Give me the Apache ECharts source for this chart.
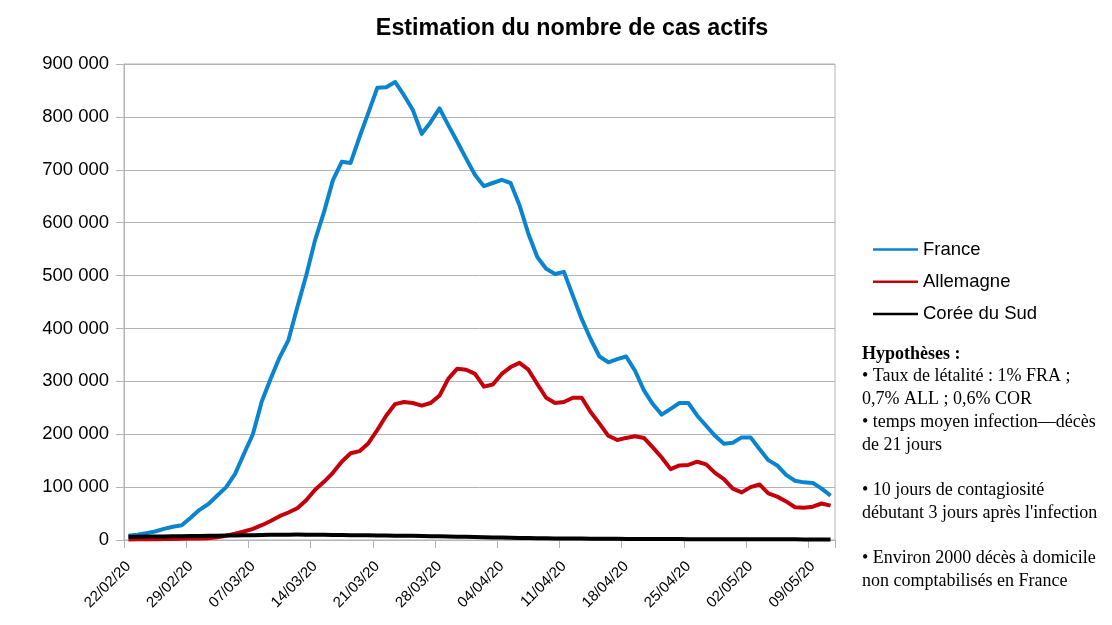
<!DOCTYPE html>
<html>
<head>
<meta charset="utf-8">
<script src="https://cdn.jsdelivr.net/npm/echarts@6/dist/echarts.min.js"></script>
<style>
html,body{margin:0;padding:0;background:#fff;}
#chart{width:1112px;height:625px;}
</style>
</head>
<body>
<div id="chart"></div>
<script>
var dates = [
'22/02/20','23/02/20','24/02/20','25/02/20','26/02/20','27/02/20','28/02/20','29/02/20',
'01/03/20','02/03/20','03/03/20','04/03/20','05/03/20','06/03/20','07/03/20','08/03/20','09/03/20','10/03/20',
'11/03/20','12/03/20','13/03/20','14/03/20','15/03/20','16/03/20','17/03/20','18/03/20','19/03/20','20/03/20',
'21/03/20','22/03/20','23/03/20','24/03/20','25/03/20','26/03/20','27/03/20','28/03/20','29/03/20','30/03/20','31/03/20',
'01/04/20','02/04/20','03/04/20','04/04/20','05/04/20','06/04/20','07/04/20','08/04/20','09/04/20','10/04/20',
'11/04/20','12/04/20','13/04/20','14/04/20','15/04/20','16/04/20','17/04/20','18/04/20','19/04/20','20/04/20',
'21/04/20','22/04/20','23/04/20','24/04/20','25/04/20','26/04/20','27/04/20','28/04/20','29/04/20','30/04/20',
'01/05/20','02/05/20','03/05/20','04/05/20','05/05/20','06/05/20','07/05/20','08/05/20','09/05/20','10/05/20','11/05/20'
];

var france = [
8000,10000,13000,16000,21000,25000,28000,42000,57000,68000,
84000,100000,125000,163000,200000,262000,305000,345000,378000,440000,
500000,567000,620000,680000,715000,713000,762000,808000,855000,856000,
866000,841000,813000,768000,790000,816000,784000,753000,721000,690000,
669000,675000,681000,675000,633000,579000,535000,513000,503000,507000,
462000,418000,380000,347000,336000,342000,347000,320000,283000,257000,
237000,248000,259000,259000,235000,216000,197000,182000,184000,194000,
194000,172000,151000,141000,123000,112000,109000,108000,97000,84000
];

var allemagne = [
1000,1200,1400,1600,1800,2000,2300,2600,3000,3500,
5000,8000,12000,16000,21000,28000,36000,45000,52000,60000,
75000,95000,110000,127000,148000,164000,168000,183000,208000,235000,
257000,261000,259000,254000,259000,273000,305000,324000,322000,314000,
290000,294000,314000,327000,335000,322000,295000,269000,259000,261000,
269000,269000,242000,220000,197000,189000,193000,196000,193000,175000,
156000,134000,141000,142000,148000,143000,127000,115000,97000,90000,
100000,105000,88000,82000,73000,62000,61000,63000,69000,65000
];

var coree = [
6000,6200,6400,6600,6800,7000,7200,7400,7600,7800,
8000,8300,8600,8900,9200,9500,9800,10000,10100,10200,
10100,10000,9800,9600,9400,9200,9000,8800,8600,8400,
8200,8000,7800,7500,7200,6900,6600,6300,6000,5600,
5200,4800,4500,4200,3900,3600,3400,3200,3000,2800,
2700,2600,2500,2400,2300,2200,2100,2000,1900,1800,
1800,1700,1700,1600,1600,1500,1500,1400,1400,1400,
1300,1300,1300,1200,1200,1200,1100,1100,1100,1000
];

var seriesNames = ['France','Allemagne','Corée du Sud'];
var titleText = 'Estimation du nombre de cas actifs';
var noteLines = [
  {t:'Hypothèses :', bold:true},
  {t:'• Taux de létalité : 1% FRA ;'},
  {t:'0,7% ALL ; 0,6% COR'},
  {t:'• temps moyen infection\u2014décès'},
  {t:'de 21 jours'},
  {t:''},
  {t:'• 10 jours de contagiosité'},
  {t:'débutant 3 jours après l\'infection'},
  {t:''},
  {t:'• Environ 2000 décès à domicile'},
  {t:'non comptabilisés en France'}
];

var colors = ['#0b84cf','#c5000b','#000000'];
var sans = '"Liberation Sans", Arial, sans-serif';

var chart = echarts.init(document.getElementById('chart'), null, {renderer:'canvas'});

var graphics = noteLines.map(function(l, i){
  return {
    type:'text', left:862, top:345 + i*22.7,
    style:{text:l.t, font:(l.bold?'bold ':'')+'18px "Liberation Serif", "Times New Roman", serif', fill:'#000'}
  };
});

var option = {
  animation:false,
  backgroundColor:'#ffffff',
  title:{
    text:titleText, left:567, top:12, textAlign:'center',
    textStyle:{fontFamily:sans, fontSize:23.3, fontWeight:'bold', color:'#000'}
  },
  legend:{
    orient:'vertical', left:868, top:235, itemWidth:45, itemHeight:2.5, itemGap:13.3,
    icon:'rect',
    data:seriesNames,
    textStyle:{fontFamily:sans, fontSize:18.5, lineHeight:19, color:'#000', padding:[0,0,0,0]}
  },
  grid:{left:124, right:277, top:64, bottom:85, show:true, borderColor:'#b3b3b3', borderWidth:1, containLabel:false},
  xAxis:{
    type:'category', data:dates, boundaryGap:true,
    axisLine:{lineStyle:{color:'#b3b3b3', width:1}},
    axisTick:{show:true, interval:6, length:8, lineStyle:{color:'#b3b3b3'}},
    axisLabel:{interval:6, rotate:45, fontSize:15, fontFamily:sans, color:'#000', margin:24},
    splitLine:{show:false}
  },
  yAxis:{
    type:'value', min:0, max:900000, interval:100000,
    axisLine:{show:true, lineStyle:{color:'#b3b3b3'}},
    axisTick:{show:true, length:8, lineStyle:{color:'#b3b3b3'}},
    axisLabel:{fontSize:18.5, fontFamily:sans, color:'#000', margin:15,
      formatter:function(v){ return String(v).replace(/\B(?=(\d{3})+(?!\d))/g,' '); }},
    splitLine:{show:true, lineStyle:{color:'#b3b3b3', width:1}}
  },
  series:[
    {name:seriesNames[0], type:'line', data:france, symbol:'none', lineStyle:{width:4, color:colors[0], join:'round'}, itemStyle:{color:colors[0]}},
    {name:seriesNames[1], type:'line', data:allemagne, symbol:'none', lineStyle:{width:4, color:colors[1], join:'round'}, itemStyle:{color:colors[1]}},
    {name:seriesNames[2], type:'line', data:coree, symbol:'none', lineStyle:{width:4, color:colors[2], join:'round'}, itemStyle:{color:colors[2]}}
  ],
  graphic:graphics
};
chart.setOption(option);
</script>
</body>
</html>
